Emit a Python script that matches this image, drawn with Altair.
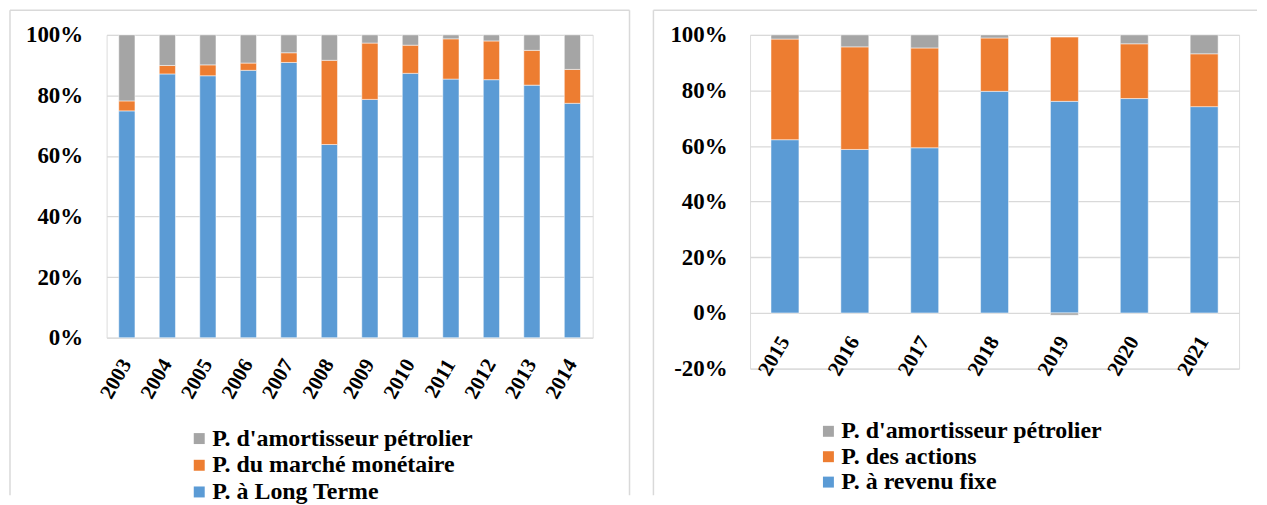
import altair as alt
import pandas as pd

FONT = "'Liberation Serif', 'Times New Roman', serif"

# ---- left panel data (2003-2014) ----
years_a = ["2003", "2004", "2005", "2006", "2007", "2008",
           "2009", "2010", "2011", "2012", "2013", "2014"]
long_terme = [0.749, 0.871, 0.865, 0.883, 0.909, 0.638,
              0.787, 0.873, 0.854, 0.852, 0.834, 0.774]
marche_monetaire = [0.033, 0.028, 0.036, 0.024, 0.032, 0.278,
                    0.186, 0.093, 0.133, 0.128, 0.115, 0.112]
amortisseur_a = [0.218, 0.101, 0.099, 0.093, 0.059, 0.084,
                 0.027, 0.034, 0.013, 0.020, 0.051, 0.114]
names_a = ["P. d'amortisseur pétrolier", "P. du marché monétaire", "P. à Long Terme"]

# ---- right panel data (2015-2021) ----
years_b = ["2015", "2016", "2017", "2018", "2019", "2020", "2021"]
revenu_fixe = [0.623, 0.588, 0.594, 0.797, 0.761, 0.771, 0.742]
actions = [0.362, 0.369, 0.359, 0.192, 0.231, 0.197, 0.190]
amortisseur_b = [0.015, 0.043, 0.047, 0.011, -0.008, 0.032, 0.068]
names_b = ["P. d'amortisseur pétrolier", "P. des actions", "P. à revenu fixe"]

ticks_a = [0, 0.2, 0.4, 0.6, 0.8, 1.0]
ticks_b = [-0.2, 0, 0.2, 0.4, 0.6, 0.8, 1.0]

COLORS = ["#A5A5A5", "#ED7D31", "#5B9BD5"]  # gray, orange, blue (legend order)
BORDER = "#D9D9D9"
MINUS_FIX = "replace(datum.label, '\u2212', '-')"


def long_df(years, blue, orange, gray, names):
    rows = []
    for i, y in enumerate(years):
        rows.append({"year": y, "series": names[2], "value": blue[i], "idx": 0})
        rows.append({"year": y, "series": names[1], "value": orange[i], "idx": 1})
        rows.append({"year": y, "series": names[0], "value": gray[i], "idx": 2})
    return pd.DataFrame(rows)


def panel(df, years, names, ydomain, yvalues, w, h, ylabpad, xlabpad, xoffset,
          legx, legy, rowpad, box_right, draw_right):
    bars = alt.Chart(df).mark_bar(stroke="white", strokeWidth=0.5).encode(
        x=alt.X("year:N", sort=years, title=None,
                scale=alt.Scale(paddingInner=0.6, paddingOuter=0.3),
                axis=alt.Axis(labelAngle=-60, labelAlign="right", labelBaseline="middle",
                              labelFont=FONT, labelFontSize=21, labelFontWeight="bold",
                              labelColor="black", labelPadding=xlabpad, ticks=False,
                              tickSize=0, domain=False, grid=False, offset=xoffset,
                              labelOverlap=False)),
        y=alt.Y("value:Q", stack="zero", title=None,
                scale=alt.Scale(domain=ydomain, nice=False, zero=False),
                axis=alt.Axis(values=yvalues, format=".0%", labelExpr=MINUS_FIX,
                              labelFont=FONT,
                              labelFontSize=23, labelFontWeight="bold", labelColor="black",
                              labelPadding=ylabpad, ticks=False, tickSize=0, domain=False,
                              grid=True, gridColor="#D9D9D9", gridWidth=1.3)),
        color=alt.Color("series:N",
                        scale=alt.Scale(domain=names, range=COLORS),
                        legend=alt.Legend(title=None, orient="none", legendX=legx,
                                          legendY=legy, direction="vertical",
                                          symbolType="square", symbolSize=121,
                                          symbolStrokeWidth=0, labelFont=FONT,
                                          labelFontSize=24, labelFontWeight="bold",
                                          labelColor="black", labelOffset=1,
                                          rowPadding=rowpad, padding=0, labelLimit=400)),
        order=alt.Order("idx:Q", sort="ascending"),
    )
    box_data = alt.Data(values=[{"k": 0}])
    top = alt.Chart(box_data).mark_rule(color=BORDER, strokeWidth=1.5).encode(
        x=alt.value(-97), x2=alt.value(box_right), y=alt.value(-24.7))
    left = alt.Chart(box_data).mark_rule(color=BORDER, strokeWidth=1.5).encode(
        x=alt.value(-97), y=alt.value(-24.7), y2=alt.value(462.3))
    layers = [bars, top, left]
    if draw_right:
        right = alt.Chart(box_data).mark_rule(color=BORDER, strokeWidth=1.5).encode(
            x=alt.value(box_right), y=alt.value(-24.7), y2=alt.value(462.3))
        layers.append(right)
    return alt.layer(*layers).properties(width=w, height=h)


df_a = long_df(years_a, long_terme, marche_monetaire, amortisseur_a, names_a)
df_b = long_df(years_b, revenu_fixe, actions, amortisseur_b, names_b)

left_chart = panel(df_a, years_a, names_a, [0, 1], ticks_a, 488, 304, 24, 23, 0,
                   81, 393.3, 2.8, 525, True)
right_chart = panel(df_b, years_b, names_b, [-0.2, 1], ticks_b, 491, 335, 23, 25, -56,
                    66.7, 386, 1.5, 509, False)

chart = alt.hconcat(left_chart, right_chart, spacing=20).resolve_scale(
    color="independent").properties(padding=0).configure_view(stroke=None).configure(
    background="white")

chart.save("out.html", embed_options={"renderer": "svg", "actions": False})
